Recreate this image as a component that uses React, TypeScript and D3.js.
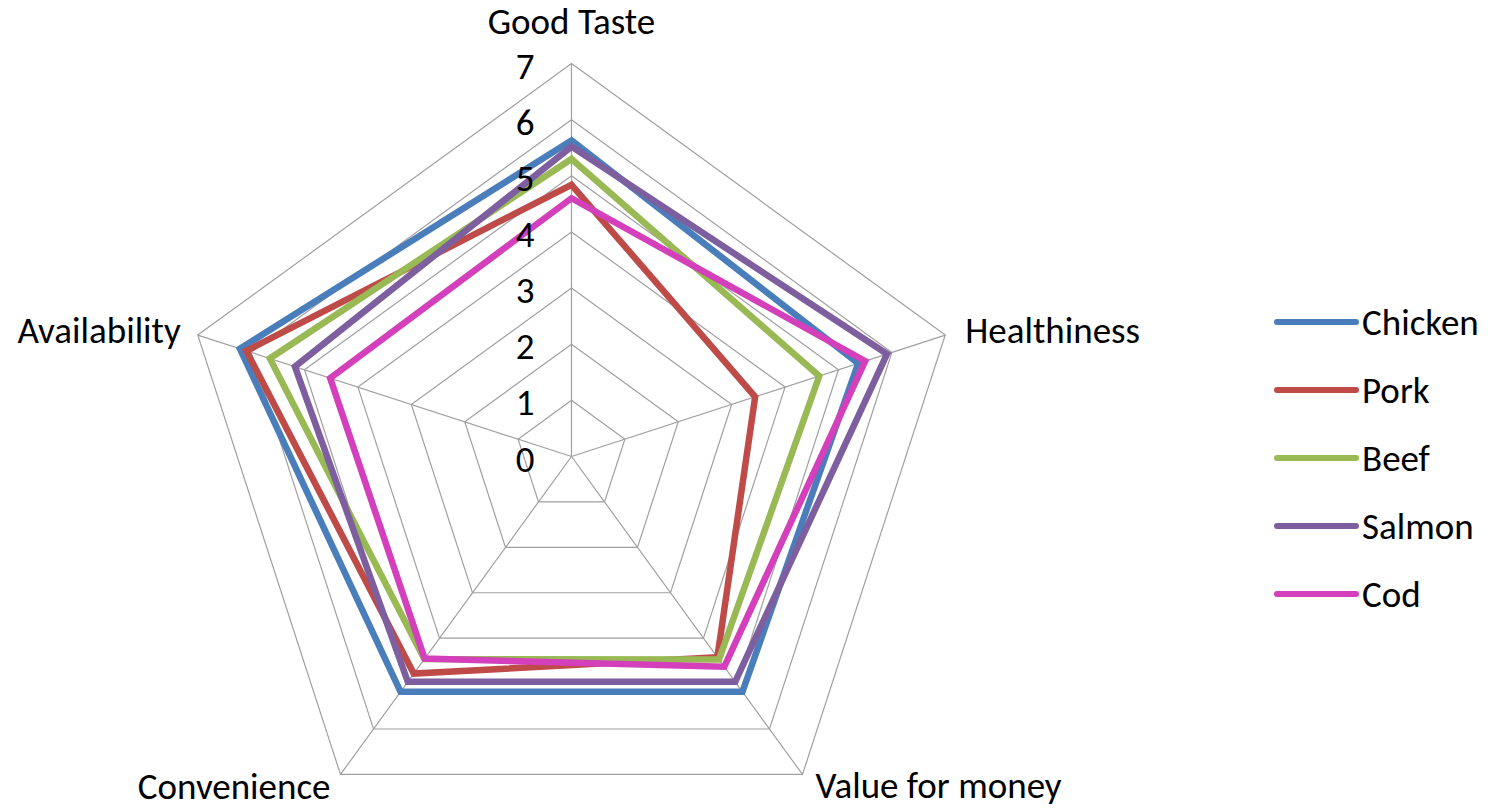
import React from 'react'
import * as d3 from 'd3'

const axes = ['Good Taste', 'Healthiness', 'Value for money', 'Convenience', 'Availability']
const ticks = [0, 1, 2, 3, 4, 5, 6, 7]

const chicken = [5.63, 5.37, 5.18, 5.18, 6.21]
const pork = [4.84, 3.44, 4.42, 4.78, 6.09]
const beef = [5.3, 4.64, 4.47, 4.46, 5.65]
const salmon = [5.52, 5.91, 4.96, 4.96, 5.18]
const cod = [4.6, 5.5, 4.63, 4.45, 4.52]

const series = [
  { name: 'Chicken', values: chicken, color: '#4a7ebb' },
  { name: 'Pork', values: pork, color: '#be4b48' },
  { name: 'Beef', values: beef, color: '#98b954' },
  { name: 'Salmon', values: salmon, color: '#7d5fa0' },
  { name: 'Cod', values: cod, color: '#d43fbb' }
]

const width = 1495
const height = 808
const cx = 571.5
const cy = 456.5
const font = 'Carlito, Calibri, "Open Sans", sans-serif'
const fontSize = 37

const r = d3.scaleLinear().domain([0, 7]).range([0, 393])
const angle = d3
  .scaleLinear()
  .domain([0, axes.length])
  .range([0, 2 * Math.PI])

const radar = d3
  .lineRadial<number>()
  .angle((d, i) => angle(i))
  .radius(d => r(d))
  .curve(d3.curveLinearClosed)

const point = (i: number, v: number) => [
  Math.sin(angle(i)) * r(v),
  -Math.cos(angle(i)) * r(v)
]

// label placement per axis (anchor, offset from the outer vertex)
const labelPos = [
  { anchor: 'middle', dx: 0, dy: -30 },
  { anchor: 'start', dx: 20, dy: 8 },
  { anchor: 'start', dx: 13, dy: 24 },
  { anchor: 'end', dx: -10, dy: 25 },
  { anchor: 'end', dx: -17, dy: 8 }
]

const App = () => {
  return (
    <svg
      width={width}
      height={height}
      viewBox={`0,0,${width},${height}`}
      style={{ position: 'absolute', left: 0, top: 0, background: '#fff' }}
    >
      <g transform={`translate(${cx},${cy})`}>
        {ticks.slice(1).map(t => (
          <path
            key={t}
            d={radar(axes.map(() => t)) || ''}
            fill="none"
            stroke="#a0a0a0"
            strokeWidth={1.2}
          />
        ))}
        {axes.map((a, i) => {
          const [x, y] = point(i, 7)
          return <line key={a} x1={0} y1={0} x2={x} y2={y} stroke="#a0a0a0" strokeWidth={1.2} />
        })}
        {series.map(s => (
          <path
            key={s.name}
            d={radar(s.values) || ''}
            fill="none"
            stroke={s.color}
            strokeWidth={6.5}
            strokeLinejoin="miter"
          />
        ))}
        {/* tick labels sit on top of the series lines */}
        {ticks.map(t => (
          <text
            key={t}
            x={-37}
            y={-r(t) + 15}
            textAnchor="end"
            fontFamily={font}
            fontSize={fontSize}
            fill="#000"
          >
            {t}
          </text>
        ))}
        {axes.map((a, i) => {
          const [x, y] = point(i, 7)
          const p = labelPos[i]
          return (
            <text
              key={a}
              x={x + p.dx}
              y={y + p.dy}
              textAnchor={p.anchor}
              fontFamily={font}
              fontSize={fontSize}
              fill="#000"
            >
              {a}
            </text>
          )
        })}
      </g>
      <g transform="translate(1277,322)">
        {series.map((s, i) => (
          <g key={s.name} transform={`translate(0,${i * 68})`}>
            <line x1={0} x2={79} y1={0} y2={0} stroke={s.color} strokeWidth={6} strokeLinecap="round" />
            <text x={85} y={13} fontFamily={font} fontSize={fontSize} fill="#000">
              {s.name}
            </text>
          </g>
        ))}
      </g>
    </svg>
  )
}

export default App
